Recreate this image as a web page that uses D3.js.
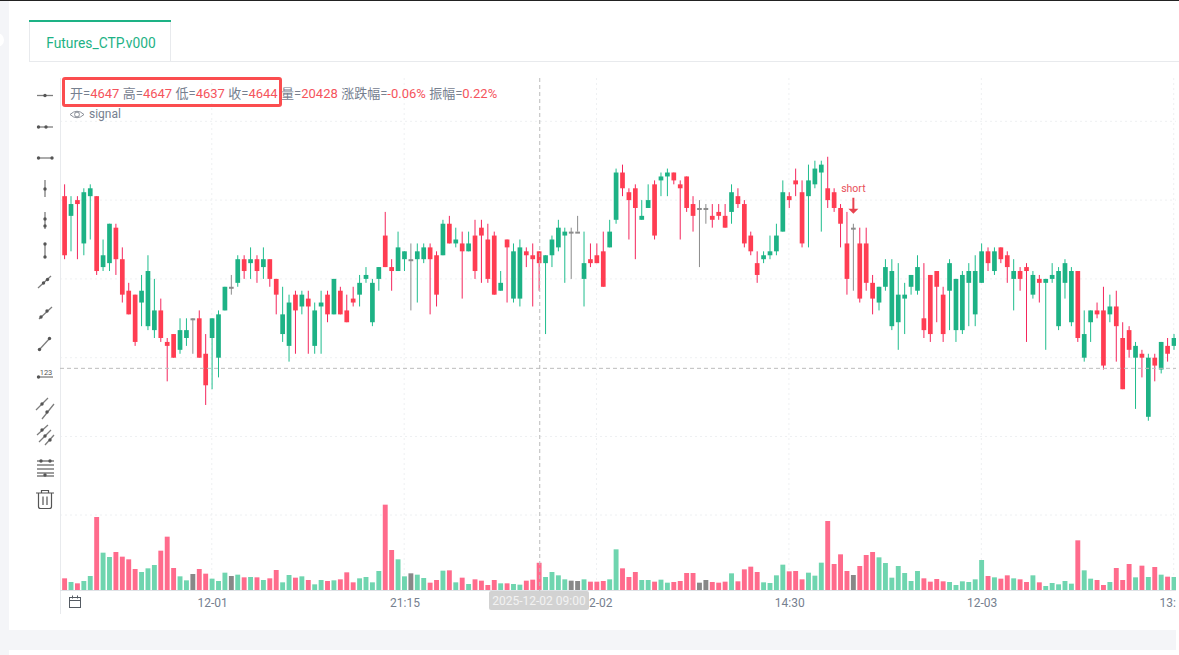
<!DOCTYPE html>
<html><head><meta charset="utf-8">
<script src="https://cdn.jsdelivr.net/npm/d3@7"></script>
<style>html,body{margin:0;padding:0;background:#fff;overflow:hidden}svg{display:block}
text{font-family:Roboto,"Noto Sans CJK SC",sans-serif}</style></head><body>
<svg id="c" width="1179" height="655"></svg>
<script>
const opens=[4661,4656,4660,4649,4661,4661,4643,4644,4653,4645,4637,4636,4634,4628,4627,4632,4624,4626,4622,4625,4630,4630,4621,4625,4620,4632,4638,4639,4645,4644,4645,4643,4645,4640,4626,4623,4636,4633,4635,4623,4633,4636,4631,4637,4632,4635,4636,4640,4629,4640,4651,4643,4642,4645,4645,4645,4645,4648,4646,4646,4654,4649,4649,4647,4651,4653,4650,4651,4637,4650,4635,4635,4647,4646,4647,4644,4646,4648,4651,4652,4652,4640,4645,4646,4647,4648,4655,4667,4662,4663,4655,4658,4664,4665,4666,4667,4664,4666,4659,4658,4658,4656,4657,4656,4657,4661,4659,4651,4644,4645,4646,4647,4652,4661,4665,4662,4661,4664,4667,4663,4662,4658,4649,4653,4649,4649,4639,4634,4638,4628,4629,4635,4638,4637,4630,4641,4642,4636,4637,4627,4627,4639,4631,4639,4647,4642,4648,4646,4640,4642,4643,4636,4640,4639,4640,4628,4639,4629,4642,4620,4629,4632,4632,4631,4633,4625,4627,4620,4621,4605,4620,4617,4623,4623];
const highs=[4664,4661,4661,4663,4664,4661,4650,4654,4654,4648,4639,4636,4641,4646,4640,4635,4625,4626,4630,4630,4630,4632,4626,4630,4632,4638,4641,4646,4646,4648,4646,4648,4645,4640,4638,4636,4637,4637,4637,4634,4637,4637,4640,4638,4636,4638,4641,4643,4640,4643,4657,4645,4652,4647,4649,4649,4649,4649,4647,4655,4656,4653,4652,4652,4655,4655,4654,4652,4642,4650,4649,4650,4648,4649,4647,4646,4651,4655,4653,4653,4656,4652,4649,4649,4652,4655,4668,4669,4663,4664,4660,4664,4665,4667,4668,4667,4665,4666,4661,4660,4659,4659,4659,4659,4664,4663,4660,4652,4647,4647,4651,4654,4665,4662,4668,4665,4669,4670,4670,4671,4663,4659,4657,4654,4653,4653,4641,4638,4645,4645,4644,4639,4641,4646,4644,4641,4642,4638,4645,4640,4642,4644,4646,4649,4648,4648,4648,4647,4645,4643,4644,4642,4641,4640,4644,4643,4645,4643,4642,4632,4632,4634,4638,4636,4637,4629,4628,4624,4622,4621,4621,4624,4625,4626];
const lows=[4645,4647,4645,4646,4650,4641,4642,4642,4641,4634,4631,4623,4628,4627,4625,4624,4614,4620,4621,4623,4621,4620,4608,4612,4615,4632,4636,4638,4640,4640,4639,4640,4638,4631,4624,4619,4621,4631,4621,4621,4621,4629,4631,4631,4629,4633,4633,4639,4628,4637,4643,4637,4642,4642,4632,4634,4644,4631,4633,4646,4649,4648,4635,4647,4640,4639,4639,4636,4637,4634,4634,4633,4643,4633,4637,4626,4643,4647,4639,4640,4652,4633,4643,4644,4638,4648,4654,4661,4650,4645,4655,4658,4650,4661,4661,4664,4650,4657,4652,4643,4654,4653,4655,4653,4654,4658,4648,4646,4639,4644,4645,4646,4652,4658,4661,4648,4648,4663,4652,4658,4657,4648,4636,4637,4634,4637,4631,4632,4637,4627,4622,4626,4636,4636,4625,4624,4629,4624,4627,4624,4626,4628,4628,4639,4642,4641,4644,4639,4632,4637,4624,4635,4634,4622,4639,4627,4635,4628,4624,4619,4624,4630,4617,4629,4619,4612,4620,4607,4615,4604,4614,4616,4619,4622];
const closes=[4646,4659,4659,4662,4663,4642,4646,4654,4645,4636,4631,4624,4637,4642,4632,4625,4623,4620,4627,4627,4630,4620,4613,4630,4631,4638,4638,4645,4642,4645,4642,4645,4640,4636,4631,4634,4632,4636,4633,4632,4634,4631,4640,4631,4629,4634,4639,4641,4639,4643,4643,4642,4648,4647,4645,4647,4648,4645,4636,4654,4649,4650,4647,4649,4642,4651,4640,4636,4639,4648,4647,4648,4646,4645,4644,4646,4650,4653,4652,4652,4652,4644,4644,4644,4638,4652,4667,4663,4660,4658,4656,4660,4651,4666,4667,4665,4663,4658,4656,4658,4658,4655,4656,4653,4662,4659,4649,4647,4641,4646,4647,4651,4662,4660,4664,4649,4665,4668,4669,4660,4658,4654,4640,4653,4635,4639,4635,4638,4643,4642,4636,4636,4641,4643,4627,4626,4638,4626,4644,4640,4641,4642,4642,4647,4644,4647,4645,4643,4642,4640,4642,4641,4639,4640,4641,4642,4644,4642,4625,4626,4632,4631,4618,4633,4628,4612,4622,4623,4620,4620,4618,4624,4621,4625];
const volumes=[8750,6000,5000,6750,10500,54750,28000,24750,28500,25000,23000,15750,13500,16250,18750,29500,40000,16500,10250,7250,12000,15750,12250,8500,6750,13000,10500,11500,9500,9750,9500,7500,8750,15000,5750,11250,9250,10250,7500,4250,7500,6750,7250,8000,13250,5750,8750,9750,5750,14250,64000,30000,23000,10250,12500,11500,9000,5500,7500,14500,14750,5750,9250,4500,8000,7000,3750,7500,5000,5000,4500,4000,7000,7750,20428,9750,13500,11000,8000,7000,6750,8000,6250,6250,6750,8000,30500,16250,9750,13500,7500,7500,6250,7750,5500,6000,6750,12750,12750,5500,7500,6000,5500,6250,12500,6500,15500,17500,13500,5750,5250,11000,19000,14000,14250,8000,13000,10750,20500,51750,19500,26750,14250,11250,18000,26250,28500,24500,20250,9250,18000,12750,6750,14250,8750,6250,8250,6500,6000,3750,6500,6000,8000,22500,10500,9500,8500,11000,8750,8000,6000,11000,5750,3000,5250,4250,6750,4750,37250,14750,8500,7500,3750,6000,16500,7500,19500,9500,18250,9750,17250,11500,10000,9750];
const tickIndex=[23,53,83,113,143,173];
const tickLabels=["12-01","21:15","12-02","14:30","12-03","13:"];
const priceGrid=[4680,4660,4640,4620,4600];
const volumeGrid=[56250];
const hoverIndex=74, signalIndex=123;
const hoverLabel="2025-12-02 09:00", hoverPrice=4617.3;
const tabTitle="Futures_CTP.v000", signalName="signal", signalText="short";

const svg=d3.select("#c");
const RED="#ff3d52",REDW="#f4265c",GREEN="#1db285",GREENW="#1fbd8d",GRAY="#8c8c8c";
const VRED="#ff6b8c",VGREEN="#6fd5af",VGRAY="#888888";
const TXT="#76808f",VAL="#f5545c";

// page frame
svg.append("rect").attr("width",1179).attr("height",655).attr("fill","#fff");
svg.append("rect").attr("width",9).attr("height",655).attr("fill","#f4f5f8");
svg.append("rect").attr("y",630).attr("width",1176).attr("height",20).attr("fill","#f4f5f8");
svg.append("rect").attr("width",1179).attr("height",1).attr("fill","#222");
svg.append("circle").attr("cx",-3).attr("cy",40).attr("r",7).attr("fill","#fff");

// tab
svg.append("line").attr("x1",29).attr("x2",1179).attr("y1",61.5).attr("y2",61.5).attr("stroke","#e8eaed");
svg.append("path").attr("d","M29.5 21V61.5M170.5 21V61.5").attr("stroke","#e8eaed").attr("fill","none");
svg.append("rect").attr("x",29).attr("y",20).attr("width",142).attr("height",2).attr("fill","#1db285");
svg.append("text").attr("x",101).attr("y",48).attr("text-anchor","middle").attr("font-size",13.8).attr("fill","#1db285").text(tabTitle);

// scales
const n=opens.length;
const x=d3.scaleLinear().domain([0,n-1]).range([64.6,1174]);
const y=d3.scaleLinear().domain([4600,4680]).range([436.5,121.3]);
const yVol=d3.scaleLinear().domain([0,56250]).range([590,515]);
const bodyW=4.7, volW=4.9;

const clip=svg.append("defs").append("clipPath").attr("id","plot");
clip.append("rect").attr("x",60).attr("y",60).attr("width",1116).attr("height",560);
const plot=svg.append("g").attr("clip-path","url(#plot)");

// grid
const grid=plot.append("g").attr("fill","none").attr("stroke","#eef0f2").attr("stroke-dasharray","2,3");
grid.selectAll(".h").data(priceGrid).join("line").attr("class","h").attr("x1",60).attr("x2",1176).attr("y1",d=>y(d)).attr("y2",d=>y(d));
grid.selectAll(".v").data(volumeGrid).join("line").attr("class","v").attr("x1",60).attr("x2",1176).attr("y1",d=>yVol(d)).attr("y2",d=>yVol(d));
grid.selectAll(".t").data(tickIndex).join("line").attr("class","t").attr("x1",d=>x(d)-0.3).attr("x2",d=>x(d)-0.3).attr("y1",78).attr("y2",590);

// candles
const rows=d3.range(n);
const color=i=>closes[i]>opens[i]?"up":closes[i]<opens[i]?"down":"flat";
const bodyC={up:GREEN,down:RED,flat:GRAY},wickC={up:GREENW,down:REDW,flat:GRAY},volC={up:VGREEN,down:VRED,flat:VGRAY};
const c=plot.append("g");
c.selectAll(".w").data(rows).join("line").attr("class","w")
 .attr("x1",i=>x(i)).attr("x2",i=>x(i)).attr("y1",i=>y(highs[i])).attr("y2",i=>y(lows[i]))
 .attr("stroke",i=>wickC[color(i)]).attr("stroke-width",1);
c.selectAll(".b").data(rows).join("rect").attr("class","b")
 .attr("x",i=>x(i)-bodyW/2).attr("width",bodyW)
 .attr("y",i=>y(Math.max(opens[i],closes[i])))
 .attr("height",i=>Math.max(2,Math.abs(y(opens[i])-y(closes[i]))))
 .attr("fill",i=>bodyC[color(i)]);

// volume
plot.append("g").selectAll("rect").data(rows).join("rect")
 .attr("x",i=>x(i)-volW/2).attr("width",volW)
 .attr("y",i=>yVol(volumes[i])).attr("height",i=>yVol(0)-yVol(volumes[i]))
 .attr("fill",i=>volC[color(i)]);

// axis
svg.append("line").attr("x1",60.5).attr("x2",60.5).attr("y1",78).attr("y2",614).attr("stroke","#e8eaed");
const axis=d3.axisBottom(x).tickValues(tickIndex).tickFormat((d,i)=>tickLabels[i]).tickSize(0).tickPadding(8);
const ax=svg.append("g").attr("transform","translate(0,590)").call(axis);
ax.select(".domain").attr("d","M60,0.5H1176").attr("stroke","#dfe2e6");
ax.selectAll("text").attr("font-size",12).attr("fill",TXT).attr("font-family",'Roboto,"Noto Sans CJK SC",sans-serif');
ax.selectAll("text").filter((d,i)=>i===tickLabels.length-1).attr("text-anchor","end").attr("x",1.5);

// crosshair
const ch=svg.append("g").attr("clip-path","url(#plot)").attr("stroke","#bcbcbc").attr("stroke-dasharray","4,3");
ch.append("line").attr("x1",x(hoverIndex)+0.6).attr("x2",x(hoverIndex)+0.6).attr("y1",78).attr("y2",591);
ch.append("line").attr("x1",60).attr("x2",1176).attr("y1",y(hoverPrice)).attr("y2",y(hoverPrice));
svg.append("rect").attr("x",489).attr("y",591).attr("width",100).attr("height",19).attr("rx",2).attr("fill","#d2d2d2");
svg.append("text").attr("x",539).attr("y",604.5).attr("text-anchor","middle").attr("font-size",12).attr("fill","#f2f2f2").text(hoverLabel);

// legend
const o=opens[hoverIndex],h=highs[hoverIndex],l=lows[hoverIndex],cl=closes[hoverIndex];
const legend=[["开=",o],["高=",h],["低=",l],["收=",cl],["量=",volumes[hoverIndex]],
 ["涨跌幅=",((cl-o)/o*100).toFixed(2)+"%"],["振幅=",((h-l)/o*100).toFixed(2)+"%"]];
const lt=svg.append("text").attr("x",70).attr("y",97.5).attr("font-size",13);
legend.forEach((p,i)=>{
 lt.append("tspan").attr("fill",TXT).attr("dx",i?3.4:0).text(p[0]);
 lt.append("tspan").attr("fill",VAL).text(p[1]);
});
svg.append("rect").attr("x",63.5).attr("y",78.5).attr("width",217).attr("height",27).attr("rx",1.5)
 .attr("fill","none").attr("stroke","#fb4d4f").attr("stroke-width",3);
// eye + signal name
svg.append("path").attr("d","M70 114.5Q77 108 84 114.5Q77 121 70 114.5Z").attr("fill","none").attr("stroke","#8a8f98");
svg.append("circle").attr("cx",77).attr("cy",114.5).attr("r",2.4).attr("fill","none").attr("stroke","#8a8f98");
svg.append("text").attr("x",89).attr("y",118).attr("font-size",12).attr("fill",TXT).text(signalName);

// signal annotation
const sx=x(signalIndex),sy=y(highs[signalIndex]);
svg.append("text").attr("x",sx).attr("y",sy-32).attr("text-anchor","middle").attr("font-size",10.5).attr("fill","#e8505a").text(signalText);
svg.append("line").attr("x1",sx).attr("x2",sx).attr("y1",sy-26).attr("y2",sy-13).attr("stroke","#e8434f").attr("stroke-width",2);
svg.append("path").attr("d",`M${sx-5} ${sy-15}L${sx+5} ${sy-15}L${sx} ${sy-10}Z`).attr("fill","#e8434f");

// calendar icon
const cal=svg.append("g").attr("fill","none").attr("stroke","#555b63");
cal.append("rect").attr("x",69.5).attr("y",597.5).attr("width",11).attr("height",10);
cal.append("path").attr("d","M69.5 600.5H80.5M72.5 595.5V598.5M77.5 595.5V598.5");

// toolbar
const tb=svg.append("g").attr("fill","none").attr("stroke","#7d7d7d").attr("stroke-width",1.3);
const dots=(pts)=>pts.forEach(p=>tb.append("circle").attr("cx",p[0]).attr("cy",p[1]).attr("r",1.7).attr("fill","#555").attr("stroke","none"));
[["M37 95.5H53",[[45,95.5]]],
 ["M37 127H53",[[38.5,127],[46,127]]],
 ["M38 158H52",[[38.5,158],[52,158]]],
 ["M45 180V197",[[45,189]]],
 ["M45 212V229",[[45,219],[45,226]]],
 ["M45 244V257",[[45,244],[45,257]]],
 ["M38 288L51 276",[[43.5,283],[47.5,279.5]]],
 ["M39 319L52 307",[[41,317],[47,311]]],
 ["M39 350L50 338",[[39.5,349.5],[49.5,338.5]]],
 ["M38 377H53",[[38.5,377]]],
 ["M36 410L48 398M42 419L54 404",[[42,404],[47,412]]],
 ["M37 435L48 425M39 442L51 430M45 445L54 435",[[42,430],[45,436],[50,440]]],
 ["M37 461H54M37 465H54M37 469H54M37 473H54M37 476H54",[[41,461],[50,461],[45,475]]]
].forEach(d=>{tb.append("path").attr("d",d[0]);dots(d[1]);});
svg.append("text").attr("x",46).attr("y",375).attr("text-anchor","middle").attr("font-size",7.5).attr("fill","#555").text("123");
const tr=svg.append("g").attr("fill","none").attr("stroke","#555").attr("stroke-width",1.2);
tr.append("path").attr("d","M36 493H54M41.5 493V490.5H48.5V493M38.5 493V506.5Q38.5 508.5 40.5 508.5H49.5Q51.5 508.5 51.5 506.5V493M43 496.5V505M47 496.5V505");
</script></body></html>
